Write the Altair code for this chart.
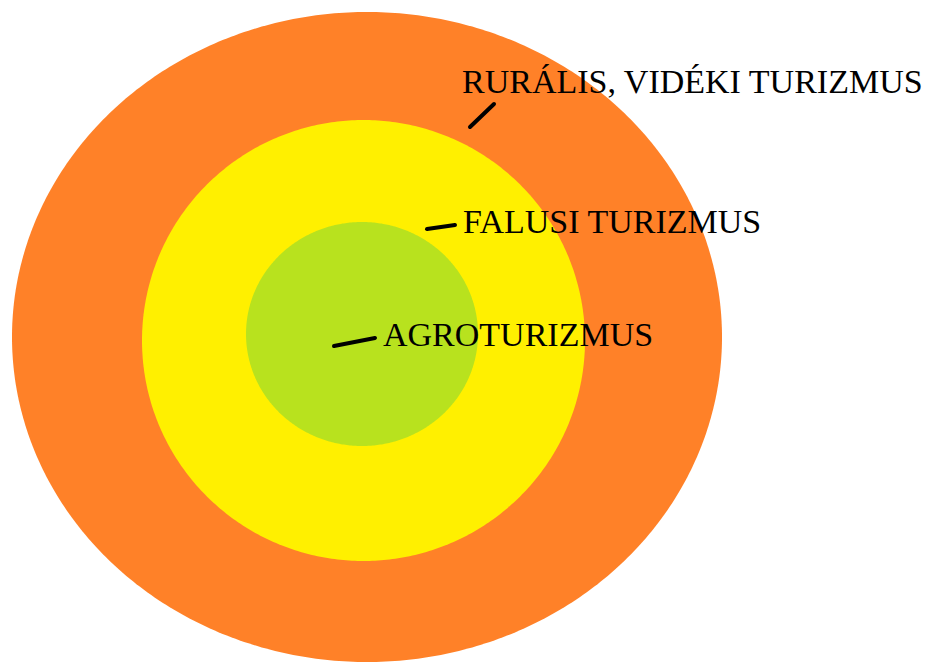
import altair as alt
import pandas as pd

# Nested ellipses (screen-pixel units of the reference)
ring_names = ["rural", "falusi", "agro"]
ring_cx = [367, 363.5, 362]
ring_cy = [337, 340.5, 334]
ring_rx = [355, 221.5, 116]
ring_ry = [325, 220.5, 112]
ring_colors = ["#FF8128", "#FFF000", "#B8E21E"]

# Labels
label_text = ["RURÁLIS, VIDÉKI TURIZMUS", "FALUSI TURIZMUS", "AGROTURIZMUS"]
label_x = [462, 463, 383]
label_y = [93, 233, 346]

# Leader strokes
lead_x1 = [470, 427, 334]
lead_y1 = [127, 229, 346]
lead_x2 = [494, 455, 375]
lead_y2 = [104, 225, 338]

W, H = 914, 655
xs = alt.Scale(domain=[8, 8 + W], nice=False, zero=False)
ys = alt.Scale(domain=[8, 8 + H], nice=False, zero=False, reverse=True)

N = 240
rings = pd.DataFrame({"name": ring_names, "cx": ring_cx, "cy": ring_cy, "rx": ring_rx, "ry": ring_ry})

layers = []
for name, col in zip(ring_names, ring_colors):
    layer = (
        alt.Chart(rings)
        .transform_filter(alt.datum.name == name)
        .transform_calculate(k=f"sequence(0, {N + 1})")
        .transform_flatten(["k"])
        .transform_calculate(
            px=f"datum.cx + datum.rx*cos(PI*datum.k/{N})",
            ylo=f"datum.cy - datum.ry*sin(PI*datum.k/{N})",
            yhi=f"datum.cy + datum.ry*sin(PI*datum.k/{N})",
        )
        .mark_area(color=col, opacity=1, interpolate="linear")
        .encode(
            x=alt.X("px:Q", scale=xs, axis=None),
            y=alt.Y("ylo:Q", scale=ys, axis=None),
            y2="yhi:Q",
        )
    )
    layers.append(layer)

leads = pd.DataFrame({"x1": lead_x1, "y1": lead_y1, "x2": lead_x2, "y2": lead_y2})
rules = alt.Chart(leads).mark_rule(color="black", strokeWidth=4, strokeCap="round").encode(
    x=alt.X("x1:Q", scale=xs, axis=None),
    y=alt.Y("y1:Q", scale=ys, axis=None),
    x2="x2:Q",
    y2="y2:Q",
)

labels = pd.DataFrame({"label": label_text, "x": label_x, "y": label_y})
texts = alt.Chart(labels).mark_text(
    align="left", baseline="alphabetic", font="Liberation Serif", fontSize=34, color="black"
).encode(
    x=alt.X("x:Q", scale=xs, axis=None),
    y=alt.Y("y:Q", scale=ys, axis=None),
    text="label:N",
)

chart = alt.layer(*layers, rules, texts).properties(
    width=W, height=H, padding=0, autosize=alt.AutoSizeParams(type="none")
).configure_view(stroke=None)

chart.save("out.html", embed_options={"renderer": "svg", "actions": False})
